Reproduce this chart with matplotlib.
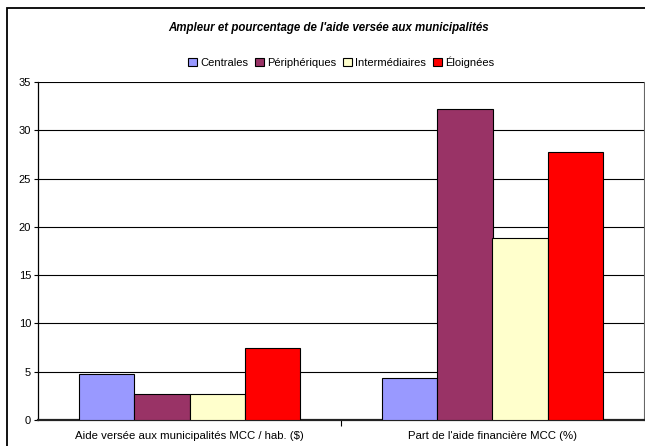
import matplotlib
matplotlib.use("Agg")
import matplotlib.pyplot as plt
import numpy as np
from matplotlib.patches import Rectangle

plt.rcParams['font.family'] = ['Liberation Sans', 'DejaVu Sans']

title = "Ampleur et pourcentage de l'aide versée aux municipalités"
categories = ["Aide versée aux municipalités MCC / hab. ($)",
              "Part de l'aide financière MCC (%)"]
series = ["Centrales", "Périphériques", "Intermédiaires", "Éloignées"]
centrales = [4.8, 4.4]
peripheriques = [2.7, 32.2]
intermediaires = [2.7, 18.8]
eloignees = [7.45, 27.7]
colors = ["#9999FF", "#993366", "#FFFFCC", "#FF0000"]
yticks = [0, 5, 10, 15, 20, 25, 30, 35]

W, H = 645, 446
fig = plt.figure(figsize=(W / 100, H / 100), dpi=100)
ax = fig.add_axes([38 / W, 26 / H, (644 - 38) / W, (420 - 82) / H])

x = np.arange(len(categories))
bw = 1 / 5.5
values = [centrales, peripheriques, intermediaires, eloignees]
for i, (name, vals, col) in enumerate(zip(series, values, colors)):
    ax.bar(x + (i - 1.5) * bw, vals, bw, color=col, edgecolor="black",
           linewidth=0.8, label=name, zorder=3)

ax.set_xlim(-0.5, 1.5)
ax.set_ylim(0, 35)
ax.set_yticks(yticks)
ax.yaxis.grid(True, color="black", linewidth=0.8, zorder=0)
ax.tick_params(axis="y", labelsize=8, length=3, width=0.8, pad=2)
ax.set_xticks(x)
ax.set_xticklabels(categories)
ax.tick_params(axis="x", which="major", length=0, labelsize=8.2, pad=8)
ax.set_xticks([0.5], minor=True)
ax.tick_params(axis="x", which="minor", length=4, width=0.8)
ax.spines["top"].set_visible(False)
ax.spines["left"].set_linewidth(0.9)
ax.spines["right"].set_color("#666666")
ax.spines["bottom"].set_linewidth(1.6)
ax.spines["bottom"].set_color("#222222")

fig.text(329 / W, 1 - 28 / H, title, ha="center", va="center",
         fontsize=8.3, fontweight="bold", fontstyle="italic")
fig.legend(loc="center", bbox_to_anchor=(341 / W, 1 - 62 / H), ncol=4,
           frameon=False, fontsize=8, handlelength=0.8, handleheight=0.8,
           handletextpad=0.3, columnspacing=0.6)

fig.add_artist(Rectangle((7 / W, -0.1), 1.2, 1.1 - 8 / H,
                         transform=fig.transFigure, fill=False,
                         edgecolor="black", linewidth=1.3))

fig.savefig("out.png", dpi=100)
